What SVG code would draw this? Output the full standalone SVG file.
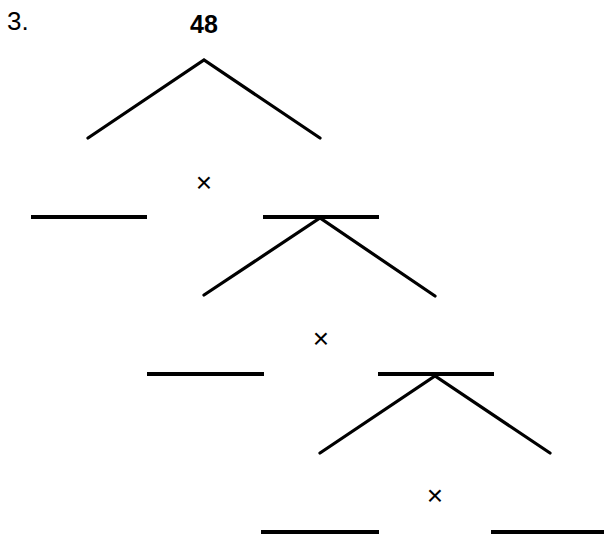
<svg xmlns="http://www.w3.org/2000/svg" width="604" height="536" viewBox="0 0 604 536">
<style>
.t{font-family:"Liberation Sans",Arial,sans-serif;fill:#000}
.op{font-family:"Liberation Sans",Arial,sans-serif;font-size:28px;fill:#000;text-anchor:middle}
.d{stroke:#000;stroke-width:3.2;stroke-linecap:round;fill:none}
.h{stroke:#000;stroke-width:4;fill:none}
</style>
<rect width="604" height="536" fill="#fff"/>
<text class="t" x="7" y="30" font-size="26">3.</text>
<g id="root"><text class="t" x="204" y="33" font-size="25" font-weight="bold" text-anchor="middle">48</text></g>
<g id="connectors">
<path class="d" d="M88,138 L204,60 L320,138"/>
<path class="d" d="M204,295 L320,218 L435,296"/>
<path class="d" d="M320,453 L435,376 L550,453"/>
</g>
<g id="ops">
<text class="op" x="204" y="192">×</text>
<text class="op" x="321" y="348">×</text>
<text class="op" x="435" y="505">×</text>
</g>
<g id="blank1"><line class="h" x1="31" y1="217" x2="147" y2="217"/></g>
<g id="blank2"><line class="h" x1="263" y1="217" x2="379" y2="217"/></g>
<g id="blank3"><line class="h" x1="147" y1="374" x2="264" y2="374"/></g>
<g id="blank4"><line class="h" x1="378" y1="374" x2="494" y2="374"/></g>
<g id="blank5"><line class="h" x1="261" y1="532" x2="379" y2="532"/></g>
<g id="blank6"><line class="h" x1="491" y1="532" x2="604" y2="532"/></g>
</svg>
